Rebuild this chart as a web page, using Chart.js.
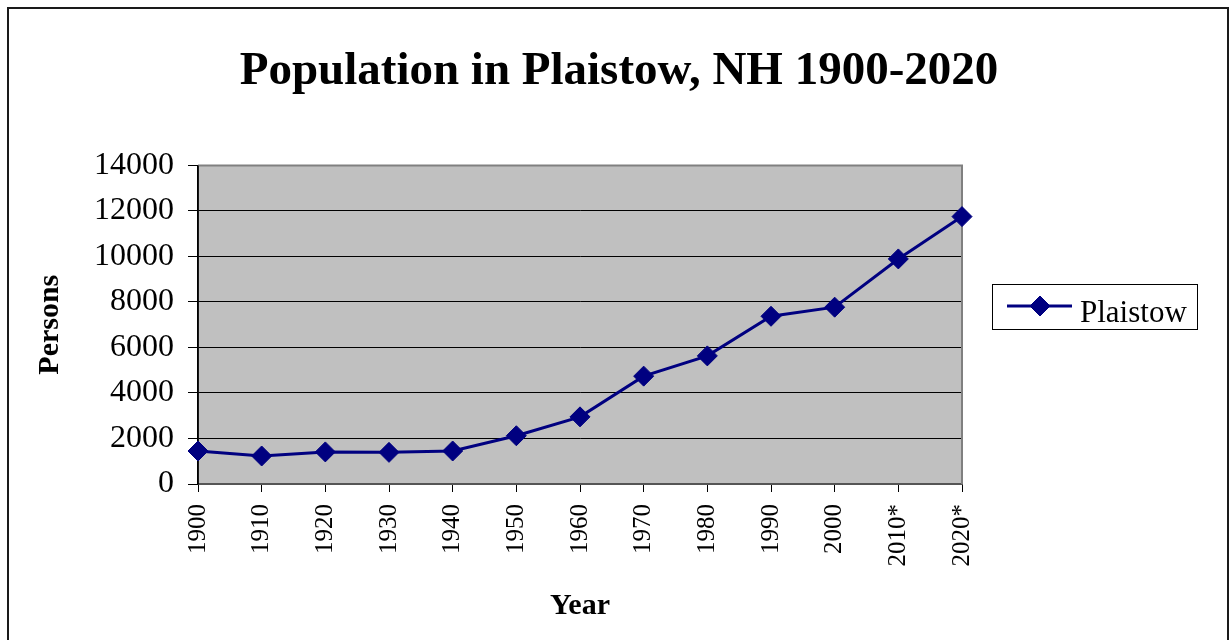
<!DOCTYPE html>
<html>
<head>
<meta charset="utf-8">
<title>Population in Plaistow, NH 1900-2020</title>
<script src="https://cdn.jsdelivr.net/npm/chart.js@4/dist/chart.umd.min.js"></script>
<style>
  html, body { margin: 0; padding: 0; background: #ffffff; }
  #wrap { position: relative; width: 1230px; height: 640px; }
</style>
</head>
<body>
<div id="wrap"><canvas id="chart"></canvas></div>
<script>
// Census years (starred values are projections)
const years = ['1900', '1910', '1920', '1930', '1940', '1950', '1960', '1970', '1980', '1990', '2000', '2010*', '2020*'];
// Residents of Plaistow
const population = [1450, 1230, 1410, 1390, 1450, 2120, 2950, 4740, 5630, 7370, 7770, 9890, 11750];
// Value axis
const yMin = 0;
const yMax = 14000;
const yStep = 2000;

const SERIF = "'Liberation Serif', 'Times New Roman', serif";
const NAVY = '#000080';

// White page, outer frame and grey plotting area
const framePlugin = {
  id: 'frame',
  beforeDraw(chart) {
    const { ctx, chartArea: a } = chart;
    ctx.save();
    ctx.fillStyle = '#ffffff';
    ctx.fillRect(0, 0, chart.width, chart.height);
    ctx.strokeStyle = '#1a1a1a';
    ctx.lineWidth = 2;
    ctx.strokeRect(8, 8, 1220, 700);
    ctx.fillStyle = '#c0c0c0';
    ctx.fillRect(a.left, a.top, a.right - a.left, a.bottom - a.top);
    ctx.restore();
  },
  beforeDatasetsDraw(chart) {
    const { ctx, chartArea: a } = chart;
    ctx.save();
    ctx.strokeStyle = '#808080';
    ctx.lineWidth = 2;
    ctx.beginPath();
    ctx.moveTo(a.left, a.top);
    ctx.lineTo(a.right, a.top);
    ctx.lineTo(a.right, a.bottom);
    ctx.stroke();
    ctx.strokeStyle = '#000000';
    ctx.lineWidth = 1.5;
    ctx.beginPath();
    ctx.moveTo(a.left, a.top);
    ctx.lineTo(a.left, a.bottom);
    ctx.stroke();
    ctx.restore();
  }
};

// Boxed legend to the right of the plot
const boxLegendPlugin = {
  id: 'boxLegend',
  afterDraw(chart) {
    const { ctx } = chart;
    const ds = chart.data.datasets[0];
    const box = { x: 992, y: 284, w: 205, h: 45 };
    const midY = box.y + 22;
    ctx.save();
    ctx.strokeStyle = '#000000';
    ctx.lineWidth = 1;
    ctx.strokeRect(box.x + 0.5, box.y + 0.5, box.w, box.h);
    ctx.strokeStyle = ds.borderColor;
    ctx.lineWidth = ds.borderWidth;
    ctx.beginPath();
    ctx.moveTo(box.x + 15, midY);
    ctx.lineTo(box.x + 80, midY);
    ctx.stroke();
    ctx.fillStyle = ds.pointBackgroundColor;
    ctx.strokeStyle = ds.pointBorderColor;
    ctx.lineWidth = 1;
    Chart.helpers.drawPoint(ctx, {
      pointStyle: ds.pointStyle,
      radius: ds.pointRadius,
      borderWidth: 1,
      rotation: 0
    }, box.x + 48, midY);
    ctx.fillStyle = '#000000';
    ctx.font = '31px ' + SERIF;
    ctx.textBaseline = 'alphabetic';
    ctx.textAlign = 'left';
    ctx.fillText(ds.label, box.x + 88, midY + 16);
    ctx.restore();
  }
};

new Chart(document.getElementById('chart'), {
  type: 'line',
  data: {
    labels: years,
    datasets: [{
      label: 'Plaistow',
      data: population,
      yAxisID: 'y',
      borderColor: NAVY,
      backgroundColor: NAVY,
      borderWidth: 3,
      pointStyle: 'rectRot',
      pointRadius: 10,
      pointHoverRadius: 10,
      pointBackgroundColor: NAVY,
      pointBorderColor: NAVY,
      pointBorderWidth: 1,
      tension: 0,
      fill: false
    }]
  },
  options: {
    responsive: true,
    maintainAspectRatio: false,
    animation: false,
    events: [],
    layout: { padding: { left: 8, right: 0, top: 0, bottom: 0 } },
    plugins: {
      legend: { display: false },
      tooltip: { enabled: false },
      title: {
        display: true,
        text: 'Population in Plaistow, NH 1900-2020',
        color: '#000000',
        font: { family: SERIF, size: 47, weight: 'bold', lineHeight: 1.2 },
        padding: { top: 44, bottom: 65 }
      }
    },
    scales: {
      x: {
        type: 'category',
        offset: false,
        afterFit(scale) { scale.height = 156; },
        grid: {
          display: true,
          drawOnChartArea: false,
          drawTicks: true,
          tickLength: 8,
          color: '#000000',
          lineWidth: 1
        },
        border: { display: true, color: '#555555', width: 2 },
        ticks: {
          autoSkip: false,
          minRotation: 90,
          maxRotation: 90,
          padding: 12,
          color: '#000000',
          font: { family: SERIF, size: 25 }
        },
        title: {
          display: true,
          text: 'Year',
          color: '#000000',
          font: { family: SERIF, size: 30, weight: 'bold', lineHeight: 1.2 },
          padding: { top: 0, bottom: 16 }
        }
      },
      y: {
        min: yMin,
        max: yMax,
        position: 'left',
        afterFit(scale) { scale.width = 190; },
        grid: {
          display: true,
          drawOnChartArea: true,
          drawTicks: true,
          tickLength: 10,
          color: '#000000',
          lineWidth: 1
        },
        border: { display: true, color: '#000000', width: 1.5 },
        ticks: {
          stepSize: yStep,
          padding: 14,
          color: '#000000',
          font: { family: SERIF, size: 32 },
          callback: (v) => String(v)
        },
        title: {
          display: true,
          text: 'Persons',
          color: '#000000',
          font: { family: SERIF, size: 30, weight: 'bold', lineHeight: 1.2 },
          padding: { top: 24, bottom: 0 }
        }
      },
      // empty strip on the right that holds the legend
      side: {
        type: 'linear',
        position: 'right',
        display: true,
        afterFit(scale) { scale.width = 268; },
        grid: { display: false, drawTicks: false },
        border: { display: false },
        ticks: { display: false }
      }
    }
  },
  plugins: [framePlugin, boxLegendPlugin]
});
</script>
</body>
</html>
